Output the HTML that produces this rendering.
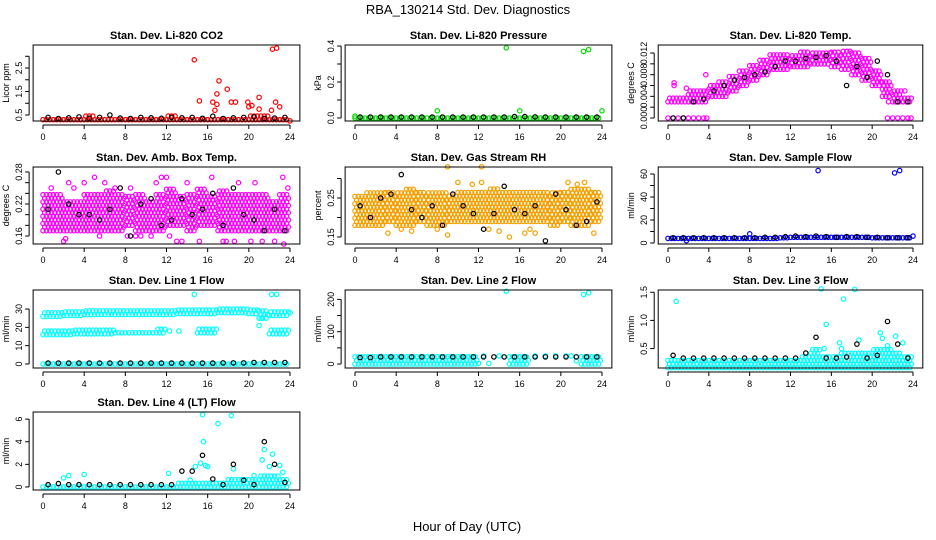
<!DOCTYPE html>
<html><head><meta charset="utf-8"><style>
body{margin:0;background:#fff;}
svg{display:block;font-family:"Liberation Sans",sans-serif;}
</style></head><body>
<svg id="chart" width="936" height="540" viewBox="0 0 936 540">
<text x="468" y="14" text-anchor="middle" font-size="13">RBA_130214  Std. Dev. Diagnostics</text>
<text x="467" y="531" text-anchor="middle" font-size="13">Hour of Day (UTC)</text>
</svg>
<script>
// x tick labels
const xTicks = [0,4,8,12,16,20,24];
// CO2
const co2Lo = [0.3,0.3,0.3,0.3,0.3,0.3,0.3,0.3,0.3,0.3,0.3,0.3,0.3,0.3,0.3,0.3,0.3,0.3,0.3,0.3,0.3,0.3,0.3,0.3];
const co2Hi = [0.45,0.45,0.45,0.45,0.5,0.45,0.45,0.45,0.45,0.45,0.45,0.45,0.5,0.45,0.45,0.45,0.45,0.45,0.45,0.45,0.5,0.5,0.45,0.45];
const co2OutX = [14.7,15.2,16.5,16.7,16.9,16.9,17.1,17.9,18.3,18.7,19.9,20,20.3,21,21,22.3,22.7,22.6,23,22.2,24];
const co2OutY = [2.85,1.1,1.05,0.7,0.95,1.4,1.95,1.6,1.05,1.05,1.05,0.85,0.9,1.25,0.75,3.3,3.35,1.05,0.85,0.7,0.25];
const co2Blk = [0.4,0.35,0.38,0.42,0.36,0.4,0.5,0.37,0.35,0.4,0.38,0.36,0.4,0.38,0.4,0.36,0.45,0.35,0.38,0.4,0.42,0.35,0.37,0.4];
// Pressure
const prLo = [0,0,0,0,0,0,0,0,0,0,0,0,0,0,0,0,0,0,0,0,0,0,0,0];
const prHi = [0.01,0.01,0.01,0.01,0.01,0.01,0.01,0.01,0.01,0.01,0.01,0.01,0.015,0.01,0.01,0.015,0.015,0.01,0.01,0.01,0.01,0.01,0.01,0.01];
const prOutX = [0,8,14.7,16,22.2,22.7,24];
const prOutY = [0.01,0.04,0.39,0.04,0.37,0.38,0.04];
const prBlk = [0.005,0.005,0.005,0.005,0.005,0.005,0.005,0.005,0.005,0.005,0.005,0.005,0.005,0.005,0.005,0.008,0.008,0.006,0.005,0.005,0.005,0.005,0.005,0.005];
// Li-820 Temp
const tLo = [0.003,0.003,0.003,0.003,0.004,0.004,0.005,0.006,0.007,0.008,0.009,0.009,0.0095,0.0095,0.010,0.010,0.0095,0.009,0.008,0.007,0.006,0.004,0.003,0.003];
const tHi = [0.004,0.004,0.005,0.005,0.006,0.007,0.008,0.009,0.010,0.011,0.012,0.012,0.012,0.0125,0.0125,0.0125,0.0125,0.0125,0.012,0.011,0.009,0.007,0.005,0.004];
const tOutX = [0,0.5,1,1.5,2,2.5,3,3.5,3.8,0.6,0.6,3.7,1.8,21.5,22,22.5,23,23.5,23.8,21.6,22.3,23.2];
const tOutY = [0,0,0,0,0,0,0,0,0,0.0065,0.006,0.008,0.0055,0,0,0,0,0,0,0.003,0.003,0.005];
const tBlk = [0,0,0.003,0.0035,0.005,0.006,0.007,0.0075,0.008,0.0085,0.0095,0.0105,0.0105,0.011,0.0112,0.0115,0.0105,0.006,0.0095,0.0075,0.0105,0.008,0.003,0.003];
// Amb box temp
const abLo = [0.17,0.17,0.17,0.17,0.17,0.17,0.17,0.17,0.18,0.17,0.17,0.17,0.18,0.18,0.17,0.18,0.18,0.17,0.17,0.17,0.17,0.17,0.17,0.17];
const abHi = [0.24,0.24,0.23,0.23,0.24,0.24,0.25,0.24,0.24,0.24,0.23,0.24,0.25,0.24,0.24,0.25,0.24,0.25,0.24,0.24,0.24,0.24,0.23,0.24];
const abOutX = [0.8,2,2.5,3,4,5,6,7,8.5,9,9.5,11,11.5,12,12.3,13,14,15.2,16.4,17.8,18.6,19,20.6,21.3,22.5,23.3,23.8,2.2,5.5,8.2,10.5,13.5,17.5,20.2,23.4];
const abOutY = [0.25,0.15,0.26,0.25,0.26,0.27,0.26,0.25,0.25,0.16,0.16,0.26,0.27,0.27,0.16,0.15,0.26,0.15,0.27,0.15,0.15,0.26,0.26,0.15,0.15,0.27,0.25,0.155,0.16,0.16,0.16,0.15,0.15,0.15,0.145];
const abBlk = [0.21,0.28,0.22,0.2,0.2,0.19,0.21,0.25,0.16,0.22,0.23,0.18,0.19,0.23,0.2,0.21,0.24,0.18,0.25,0.2,0.19,0.17,0.21,0.17];
// Gas stream RH
const rhLo = [0.18,0.18,0.18,0.19,0.18,0.18,0.19,0.18,0.18,0.19,0.19,0.19,0.19,0.19,0.19,0.19,0.19,0.19,0.19,0.18,0.19,0.18,0.18,0.19];
const rhHi = [0.26,0.27,0.27,0.27,0.27,0.28,0.27,0.27,0.27,0.26,0.27,0.27,0.27,0.28,0.27,0.27,0.27,0.27,0.27,0.27,0.27,0.28,0.28,0.27];
const rhOutX = [3.2,4.5,5.5,8,9,10,11.4,12.3,13,14,15,16.5,17,17.5,20.7,21.6,22.3,23.2,9,12.3];
const rhOutY = [0.16,0.17,0.165,0.17,0.155,0.29,0.285,0.29,0.17,0.165,0.15,0.16,0.17,0.16,0.29,0.285,0.29,0.16,0.33,0.33];
const rhBlk = [0.23,0.2,0.25,0.26,0.31,0.22,0.2,0.23,0.18,0.26,0.23,0.21,0.17,0.21,0.28,0.22,0.21,0.23,0.14,0.26,0.22,0.18,0.19,0.24];
// Sample flow
const sfLo = [4,4,4,4,4,4,4,4,4,4,4,4.5,5,5,5,5,5,5,5,5,4.5,4.5,4.5,4.5];
const sfHi = [5.5,5.5,5.5,5.5,5.5,5.5,5.5,5.5,6,6,6,7,8,8,8,8,7.5,8,8,8,7.5,7.5,7,7];
const sfOutX = [1.8,8,14.7,22.2,22.7,24];
const sfOutY = [2,8,63,61,63,6];
const sfBlk = [4.5,4.5,4.5,4.5,4.5,4.5,4.5,4.5,4.5,5,5,5.5,6,5.5,6,5.5,5,5.5,5.5,5,5,4.5,4.5,4.5];
// Line 1
const l1Lo = [26,26,26.5,26.5,27,27,27,27,27,27,27,27,27,27.5,27.5,27.5,27.5,28,28,28,27.5,25,26.5,26.5];
const l1Hi = [28.5,28.5,28.5,28.5,29,29,29,29,29,29,29,29,29,29.5,29.5,29.5,29.5,30,30,30,30,29.5,29,29];
const l1bLo = [16,16,16,16.5,16.5,16.5,16.5,17,17,17,17,17,null,null,null,17,17,null,null,null,null,null,16.5,16.5];
const l1bHi = [18,18,18,18.5,18.5,18.5,18.5,18.5,18.5,18.5,18.5,19,null,null,null,19,19,null,null,null,null,null,18.5,18.5];
const l1cLo = [0,0,0,0,0,0,0,0,0,0,0,0,0,0,0,0,0,0,0,0,0,0,0,0];
const l1cHi = [0.8,0.8,0.8,0.8,0.8,0.8,0.8,0.8,0.8,0.8,0.8,0.8,1,1,1,1,1,1,1,1,1,1,1,1];
const l1OutX = [12.3,13.2,14.7,21,21.2,22.2,22.7,24];
const l1OutY = [18,18,38,21,25,38,38,28];
const l1Blk = [0.5,0.5,0.5,0.5,0.5,0.5,0.5,0.5,0.5,0.5,0.5,0.5,0.5,0.5,0.5,0.5,0.5,0.6,0.6,0.6,0.8,0.8,0.8,0.8];
// Line 2
const l2Lo = [0,0,0,0,0,0,0,0,0,0,0,0,null,null,null,0,0,null,null,null,null,null,0,0];
const l2Hi = [28,28,28,28,28,28,28,28,28,28,28,28,null,null,null,28,28,null,null,null,null,null,28,28];
const l2OutX = [12,13,14.7,21.5,22.2,22.7,12.5,14,17.5,18.5,19.5,20.5,21];
const l2OutY = [2,2,225,10,215,220,25,25,25,25,25,25,25];
const l2Blk = [20,20,22,22,22,22,22,22,22,22,22,22,22,22,22,22,22,22,22,22,22,22,22,22];
// Line 3
const l3Lo = [0.16,0.16,0.16,0.16,0.16,0.16,0.16,0.16,0.16,0.16,0.16,0.16,0.16,0.16,0.16,0.16,0.16,0.16,0.16,0.16,0.16,0.16,0.16,0.16];
const l3Hi = [0.3,0.34,0.3,0.3,0.3,0.3,0.3,0.3,0.3,0.3,0.3,0.3,0.3,0.4,0.5,0.4,0.4,0.45,0.45,0.45,0.5,0.5,0.45,0.4];
const l3OutX = [0.8,15,15.5,17.2,18.3,15.3,16.8,17,18.7,20.8,21,22.3,21.5,23];
const l3OutY = [1.34,1.56,0.93,1.38,1.55,0.5,0.6,0.5,0.65,0.78,0.68,0.72,0.55,0.6];
const l3Blk = [0.38,0.33,0.33,0.33,0.33,0.33,0.33,0.33,0.33,0.33,0.33,0.33,0.33,0.42,0.7,0.33,0.33,0.35,0.58,0.33,0.38,0.98,0.58,0.33];
// Line 4
const l4Lo = [0,0,0,0,0,0,0,0,0,0,0,0,0,0,0,0,0,0,0,0,0,0,0,0];
const l4Hi = [0.3,0.3,0.3,0.3,0.3,0.3,0.3,0.3,0.3,0.3,0.3,0.3,0.3,0.4,0.6,0.5,0.5,0.5,0.8,0.8,0.9,1,1.2,0.8];
const l4OutX = [2,2.5,4,12.2,14.3,14.8,15.3,15.5,15.6,16,17,18.3,18.5,20.5,21.3,21.5,22,22.3,23,23.3,15.8];
const l4OutY = [0.8,1,1.1,1.2,0.6,1.8,2.1,6.4,4,1.8,5.6,6.3,1.6,1,2.4,3.3,1.8,2.9,1.9,1.3,1.9];
const l4Blk = [0.2,0.3,0.2,0.2,0.2,0.2,0.2,0.2,0.2,0.2,0.2,0.2,0.2,1.4,1.4,2.8,0.7,0.2,2,0.6,0.2,4,2,0.4];

const NS = "http://www.w3.org/2000/svg";
const svg = document.getElementById('chart');
function mk(tag, attrs, parent){const e=document.createElementNS(NS,tag);for(const k in attrs)e.setAttribute(k,attrs[k]);(parent||svg).appendChild(e);return e;}

const cols = [{x0:43,x24:290},{x0:355,x24:602},{x0:668,x24:913}];
const rows = [{top:45,bot:121},{top:167,bot:244},{top:290,bot:368},{top:412,bot:490}];

function panel(p){
  const c = cols[p.col], r = rows[p.row];
  const g = mk('g',{});
  
  
  const k = (c.x24-c.x0)/24;
  const L = c.x0-0.96*k, R = c.x24+0.96*k;
  const X = t => c.x0 + t*k;
  const Y = v => r.bot - (v-p.ymin)/(p.ymax-p.ymin)*(r.bot-r.top);
  const tt = mk('text',{x:(L+R)/2,y:r.top-6,'text-anchor':'middle','font-size':11,'font-weight':'bold'},g);
  tt.textContent = p.title;
  
  
  const marks = mk('g',{fill:'none','stroke-width':1.2},g);
  
  
  const dot = (t,v,col) => {
    const cy = Y(v); if(cy<r.top-3||cy>r.bot+3) return;
    mk('circle',{cx:X(t).toFixed(1),cy:cy.toFixed(1),r:2.2,stroke:col},marks);
  };
  const vstep = 3.6*(p.ymax-p.ymin)/(r.bot-r.top);
  const band = (lo,hi,col) => {
    for(let h=0;h<24;h++){
      if(lo[h]==null) continue;
      let row = 0;
      for(let v=lo[h]; v<=hi[h]+1e-12; v+=vstep, row++){
        for(let q=0;q<3;q++){
          dot(h + q/3 + (row%2)*0.17, v, col);
        }
      }
    }
  };
  band(p.lo,p.hi,p.color);
  if(p.lo2) band(p.lo2,p.hi2,p.color);
  if(p.lo3) band(p.lo3,p.hi3,p.color);
  for(let i=0;i<p.ox.length;i++) dot(p.ox[i],p.oy[i],p.color);
  for(let h=0;h<p.blk.length;h++) dot(h+0.5,p.blk[h],'#000');
  const bx = mk('rect',{x:L,y:r.top,width:R-L,height:r.bot-r.top,fill:'none',stroke:'#000','stroke-width':1},g);
  
  
  const xa = mk('g',{},g);
  
  
  mk('line',{x1:X(0),x2:X(24),y1:r.bot+4,y2:r.bot+4,stroke:'#000'},xa);
  for(const t of xTicks){
    mk('line',{x1:X(t),x2:X(t),y1:r.bot+4,y2:r.bot+8,stroke:'#000'},xa);
    const tx = mk('text',{x:X(t),y:r.bot+19,'text-anchor':'middle','font-size':9},xa);
    tx.textContent = t;
  }
  const ya = mk('g',{},g);
  
  
  const ax = L-4;
  mk('line',{x1:ax,x2:ax,y1:Y(p.ticks[0]),y2:Y(p.ticks[p.ticks.length-1]),stroke:'#000'},ya);
  for(const v of p.ticks) mk('line',{x1:ax-4,x2:ax,y1:Y(v),y2:Y(v),stroke:'#000'},ya);
  for(let i=0;i<p.labels.length;i++){
    const y = Y(p.labelVals[i]);
    const tx = mk('text',{x:ax-7,y:y,'text-anchor':'middle','font-size':9,transform:`rotate(-90 ${ax-7} ${y})`},ya);
    tx.textContent = p.labels[i];
  }
  const yl = mk('text',{x:L-24,y:(r.top+r.bot)/2,'text-anchor':'middle','font-size':9,transform:`rotate(-90 ${L-24} ${(r.top+r.bot)/2})`},ya);
  yl.textContent = p.ylab;
  
  
}

panel({name:'panel-co2',col:0,row:0,title:'Stan. Dev. Li-820 CO2',ylab:'Licor ppm',ymin:0.245,ymax:3.48,
  ticks:[0.5,1,1.5,2,2.5,3],labelVals:[0.5,1.5,2.5],labels:['0.5','1.5','2.5'],color:'#ff0000',lo:co2Lo,hi:co2Hi,ox:co2OutX,oy:co2OutY,blk:co2Blk});
panel({name:'panel-pressure',col:1,row:0,title:'Stan. Dev. Li-820 Pressure',ylab:'kPa',ymin:-0.0167,ymax:0.4056,
  ticks:[0,0.1,0.2,0.3,0.4],labelVals:[0,0.2,0.4],labels:['0.0','0.2','0.4'],color:'#00dd00',lo:prLo,hi:prHi,ox:prOutX,oy:prOutY,blk:prBlk});
panel({name:'panel-li820-temp',col:2,row:0,title:'Stan. Dev. Li-820 Temp.',ylab:'degrees C',ymin:-0.00055,ymax:0.01348,
  ticks:[0,0.002,0.004,0.006,0.008,0.01,0.012],labelVals:[0,0.004,0.008,0.012],labels:['0.000','0.004','0.008','0.012'],color:'#ff00ff',lo:tLo,hi:tHi,ox:tOutX,oy:tOutY,blk:tBlk});
panel({name:'panel-amb-box-temp',col:0,row:1,title:'Stan. Dev. Amb. Box Temp.',ylab:'degrees C',ymin:0.145,ymax:0.2894,
  ticks:[0.16,0.18,0.2,0.22,0.24,0.26,0.28],labelVals:[0.16,0.22,0.28],labels:['0.16','0.22','0.28'],color:'#ff00ff',lo:abLo,hi:abHi,ox:abOutX,oy:abOutY,blk:abBlk});
panel({name:'panel-gas-stream-rh',col:1,row:1,title:'Stan. Dev. Gas Stream RH',ylab:'percent',ymin:0.132,ymax:0.3295,
  ticks:[0.15,0.2,0.25,0.3],labelVals:[0.15,0.25],labels:['0.15','0.25'],color:'#f5a000',lo:rhLo,hi:rhHi,ox:rhOutX,oy:rhOutY,blk:rhBlk});
panel({name:'panel-sample-flow',col:2,row:1,title:'Stan. Dev. Sample Flow',ylab:'ml/min',ymin:-0.87,ymax:66.1,
  ticks:[0,10,20,30,40,50,60],labelVals:[0,20,40,60],labels:['0','20','40','60'],color:'#0000ff',lo:sfLo,hi:sfHi,ox:sfOutX,oy:sfOutY,blk:sfBlk});
panel({name:'panel-line1-flow',col:0,row:2,title:'Stan. Dev. Line 1 Flow',ylab:'ml/min',ymin:-2.2,ymax:40.4,
  ticks:[0,10,20,30],labelVals:[0,10,20,30],labels:['0','10','20','30'],color:'#00ffff',lo:l1Lo,hi:l1Hi,lo2:l1bLo,hi2:l1bHi,lo3:l1cLo,hi3:l1cHi,ox:l1OutX,oy:l1OutY,blk:l1Blk});
panel({name:'panel-line2-flow',col:1,row:2,title:'Stan. Dev. Line 2 Flow',ylab:'ml/min',ymin:-12.3,ymax:229,
  ticks:[0,50,100,150,200],labelVals:[0,100,200],labels:['0','100','200'],color:'#00ffff',lo:l2Lo,hi:l2Hi,ox:l2OutX,oy:l2OutY,blk:l2Blk});
panel({name:'panel-line3-flow',col:2,row:2,title:'Stan. Dev. Line 3 Flow',ylab:'ml/min',ymin:0.155,ymax:1.54,
  ticks:[0.5,1,1.5],labelVals:[0.5,1,1.5],labels:['0.5','1.0','1.5'],color:'#00ffff',lo:l3Lo,hi:l3Hi,ox:l3OutX,oy:l3OutY,blk:l3Blk});
panel({name:'panel-line4-flow',col:0,row:3,title:'Stan. Dev. Line 4 (LT) Flow',ylab:'ml/min',ymin:-0.27,ymax:6.63,
  ticks:[0,2,4,6],labelVals:[0,2,4,6],labels:['0','2','4','6'],color:'#00ffff',lo:l4Lo,hi:l4Hi,ox:l4OutX,oy:l4OutY,blk:l4Blk});
</script>
</body></html>
